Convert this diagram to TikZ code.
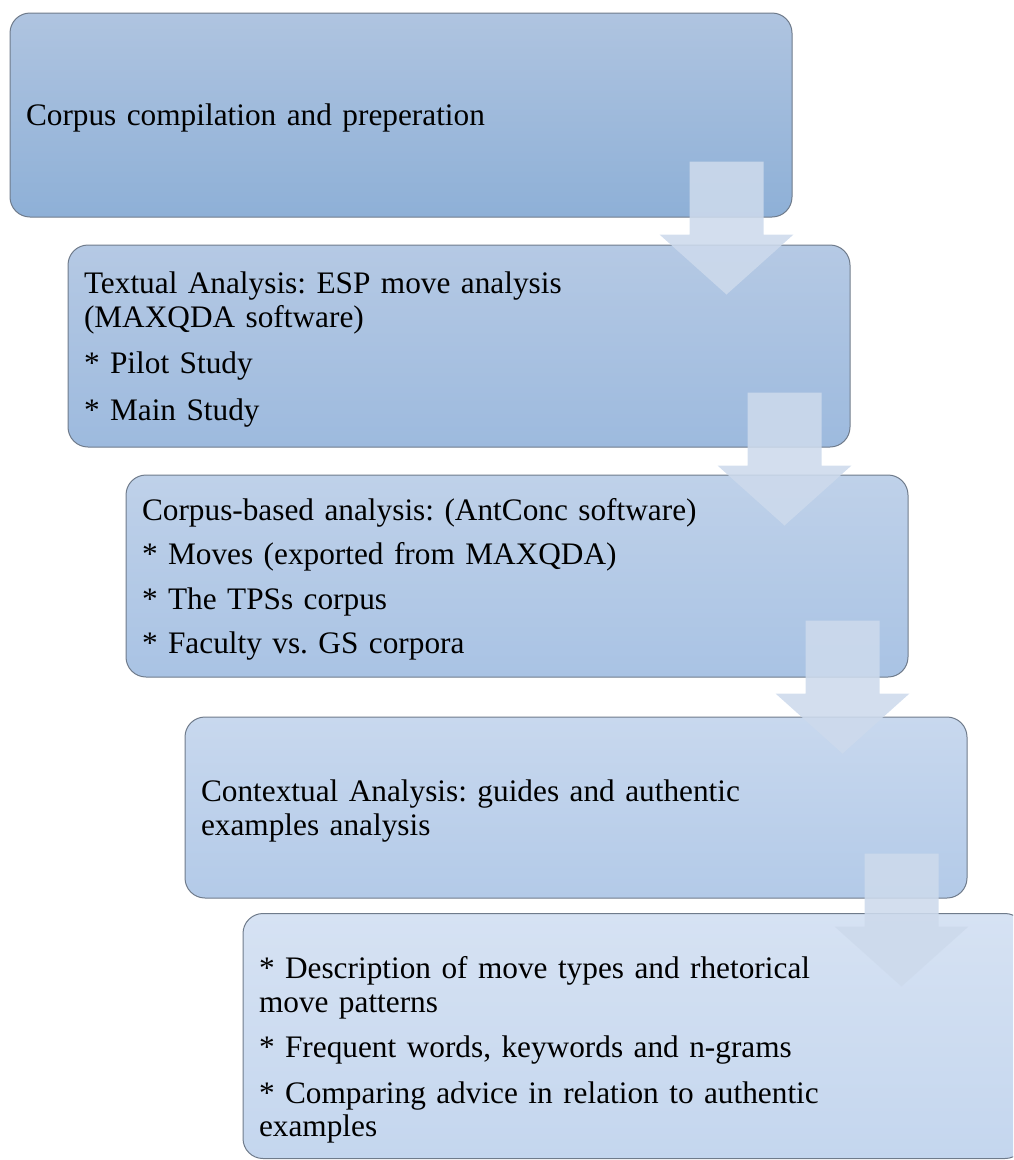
\documentclass[tikz,border=0pt]{standalone}
\usepackage{fontspec}
\setmainfont{Liberation Serif}
\usetikzlibrary{calc}
\definecolor{edgegray}{HTML}{6F7B8B}
\definecolor{arrowblue}{HTML}{CDDAEC}
\definecolor{topa}{HTML}{AFC4E0}\definecolor{bota}{HTML}{8EB0D7}
\definecolor{topb}{HTML}{B5C9E4}\definecolor{botb}{HTML}{9DBADE}
\definecolor{topc}{HTML}{BFD1E9}\definecolor{botc}{HTML}{A9C3E4}
\definecolor{topd}{HTML}{C8D8EE}\definecolor{botd}{HTML}{B3CAE8}
\definecolor{tope}{HTML}{D6E2F3}\definecolor{bote}{HTML}{C4D6EE}
\newcommand{\stageend}{\par\kern-7pt}
\newcommand{\lowend}{\par\kern-21pt}
\frenchspacing

\begin{document}
\begin{tikzpicture}[x=1pt,y=-1pt,line width=1pt,
 stage/.style={draw=edgegray,rounded corners=20pt,minimum width=782pt,inner xsep=16pt,text width=750pt,align=left,font=\fontsize{31.3}{33.5}\selectfont,execute at end node=\stageend},
 flow/.style={fill=arrowblue,fill opacity=0.88}]
\useasboundingbox (0,0) rectangle (1013,1160);
\clip (0,0) rectangle (1013,1160);
% the five stages, shifted right each time
\node[stage,top color=topa,bottom color=bota,minimum height=204pt] (b1) at (401,115) {Corpus compilation and preperation};
\node[stage,top color=topb,bottom color=botb,minimum height=202pt] (b2) at (459,346) {Textual Analysis: ESP move analysis\\ (MAXQDA software)\\[13pt] * Pilot Study\\[13pt] * Main Study};
\node[stage,top color=topc,bottom color=botc,minimum height=202pt] (b3) at (517,576) {Corpus-based analysis: (AntConc software)\\[11pt] * Moves (exported from MAXQDA)\\[11pt] * The TPSs corpus\\[11pt] * Faculty vs. GS corpora};
\node[stage,top color=topd,bottom color=botd,minimum height=181pt] (b4) at (576,807.5) {Contextual Analysis: guides and authentic\\ examples analysis};
\node[stage,top color=tope,bottom color=bote,minimum height=245pt,execute at end node=\lowend] (b5) at (634,1036) {* Description of move types and rhetorical\\ move patterns\\[12pt] * Frequent words, keywords and n-grams\\[12pt] * Comparing advice in relation to authentic\\ examples};
% block arrows between stages
\foreach \b/\o in {b1/56,b2/55,b3/57,b4/45}{\fill[flow] ($(\b.south east)+(-103,-\o)$) -- ++(74,0) -- ++(0,73) -- ++(30,0) -- ++(-67,60) -- ++(-67,-60) -- ++(30,0) -- cycle;};
\end{tikzpicture}
\end{document}
